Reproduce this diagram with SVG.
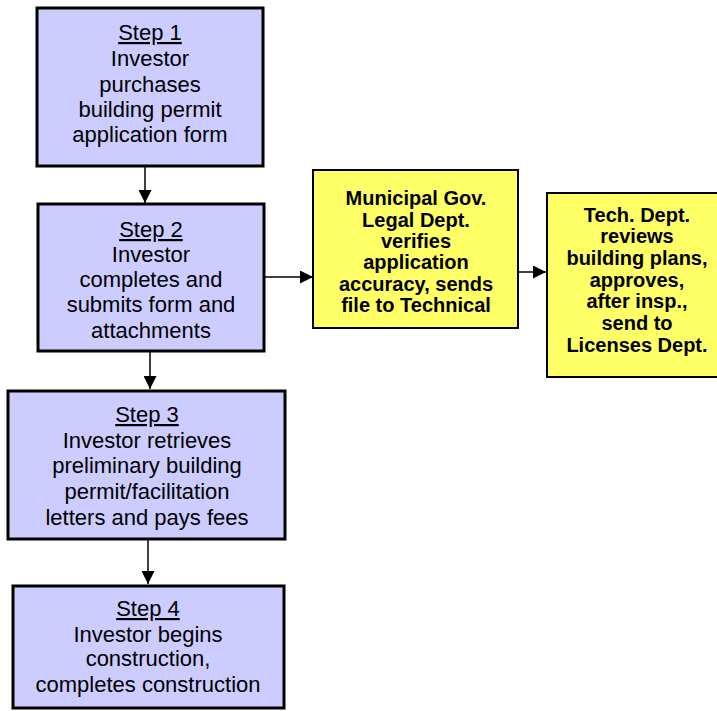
<svg xmlns="http://www.w3.org/2000/svg" width="717" height="711" viewBox="0 0 717 711">
  <style>
    .step { fill: #CCCCFF; stroke: #000; stroke-width: 3; }
    .dept { fill: #FFFF66; stroke: #000; stroke-width: 2; }
    .st { font-family: "Liberation Sans", Arial, sans-serif; font-size: 22px; fill: #000; text-anchor: middle; }
    .dt { font-family: "Liberation Sans", Arial, sans-serif; font-size: 20px; font-weight: bold; fill: #000; text-anchor: middle; }
    .u { text-decoration: underline; }
    .link { stroke: #000; stroke-width: 1.5; fill: none; marker-end: url(#head); }
  </style>
  <defs>
    <marker id="head" markerWidth="13" markerHeight="13" refX="13" refY="6.5" orient="auto" markerUnits="userSpaceOnUse">
      <path d="M0,0 L13,6.5 L0,13 Z" fill="#000"/>
    </marker>
  </defs>
  <rect width="717" height="711" fill="#fff"/>

  <g id="connectors">
    <line class="link" x1="145" y1="166" x2="145" y2="203"/>
    <line class="link" x1="265" y1="277" x2="313" y2="277"/>
    <line class="link" x1="518" y1="272" x2="546" y2="272"/>
    <line class="link" x1="150" y1="352" x2="150" y2="389"/>
    <line class="link" x1="148" y1="540" x2="148" y2="584"/>
  </g>

  <g id="step1">
    <rect class="step" x="37" y="8" width="226" height="158"/>
    <text class="st" x="150" y="40"><tspan class="u">Step 1</tspan></text>
    <text class="st" x="150" y="66">Investor</text>
    <text class="st" x="150" y="92">purchases</text>
    <text class="st" x="150" y="117">building permit</text>
    <text class="st" x="150" y="142">application form</text>
  </g>

  <g id="step2">
    <rect class="step" x="38" y="204" width="226" height="147"/>
    <text class="st" x="151" y="237"><tspan class="u">Step 2</tspan></text>
    <text class="st" x="151" y="262">Investor</text>
    <text class="st" x="151" y="287">completes and</text>
    <text class="st" x="151" y="312">submits form and</text>
    <text class="st" x="151" y="338">attachments</text>
  </g>

  <g id="legal">
    <rect class="dept" x="313" y="170" width="205" height="158"/>
    <text class="dt" x="416" y="205">Municipal Gov.</text>
    <text class="dt" x="416" y="227">Legal Dept.</text>
    <text class="dt" x="416" y="248">verifies</text>
    <text class="dt" x="416" y="269">application</text>
    <text class="dt" x="416" y="291">accuracy, sends</text>
    <text class="dt" x="416" y="312">file to Technical</text>
  </g>

  <g id="technical">
    <rect class="dept" x="547" y="193" width="182" height="184"/>
    <text class="dt" x="637" y="222">Tech. Dept.</text>
    <text class="dt" x="637" y="243">reviews</text>
    <text class="dt" x="637" y="265">building plans,</text>
    <text class="dt" x="637" y="287">approves,</text>
    <text class="dt" x="637" y="308">after insp.,</text>
    <text class="dt" x="637" y="330">send to</text>
    <text class="dt" x="637" y="352">Licenses Dept.</text>
  </g>

  <g id="step3">
    <rect class="step" x="8" y="391" width="277" height="148"/>
    <text class="st" x="147" y="422"><tspan class="u">Step 3</tspan></text>
    <text class="st" x="147" y="448">Investor retrieves</text>
    <text class="st" x="147" y="473">preliminary building</text>
    <text class="st" x="147" y="499">permit/facilitation</text>
    <text class="st" x="147" y="525">letters and pays fees</text>
  </g>

  <g id="step4">
    <rect class="step" x="13" y="586" width="271" height="122"/>
    <text class="st" x="148" y="616"><tspan class="u">Step 4</tspan></text>
    <text class="st" x="148" y="642">Investor begins</text>
    <text class="st" x="148" y="666">construction,</text>
    <text class="st" x="148" y="692">completes construction</text>
  </g>
</svg>
